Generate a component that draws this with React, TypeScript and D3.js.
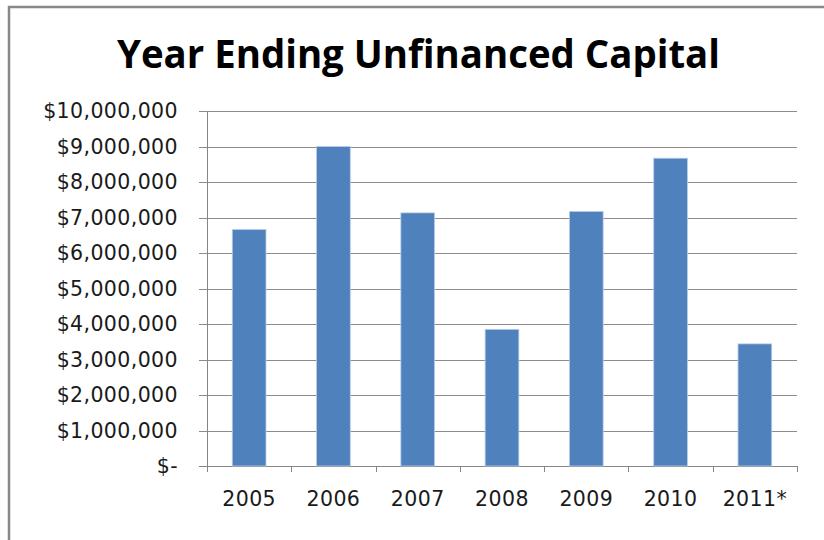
import React from "react";
import * as d3 from "d3";

const categories = ["2005", "2006", "2007", "2008", "2009", "2010", "2011*"];
const values = [6660000, 9000000, 7130000, 3850000, 7170000, 8670000, 3440000];
const yTicks = [0, 1000000, 2000000, 3000000, 4000000, 5000000, 6000000, 7000000, 8000000, 9000000, 10000000];
const title = "Year Ending Unfinanced Capital";

const W = 824;
const H = 540;
const plot = { left: 207, right: 797, top: 111, bottom: 466 };

const fmt = (v: number) => (v === 0 ? "$-" : "$" + d3.format(",")(v));

export default function App() {
  const x = d3
    .scaleBand<string>()
    .domain(categories)
    .range([plot.left, plot.right])
    .paddingInner(0.6)
    .paddingOuter(0.3);
  const y = d3.scaleLinear().domain([0, 10000000]).range([plot.bottom, plot.top]);
  const step = (plot.right - plot.left) / categories.length;
  const boundaries = d3.range(categories.length + 1).map((i) => plot.left + i * step);

  return (
    <svg
      width={W}
      height={H}
      style={{ position: "absolute", left: 0, top: 0, background: "#fff" }}
      fontFamily="'DejaVu Sans', sans-serif"
    >
      <rect x={9} y={7} width={830} height={560} fill="#fff" stroke="#888" strokeWidth={2.5} />
      <text
        x={418.5}
        y={68}
        textAnchor="middle"
        fontFamily="'Open Sans', sans-serif"
        fontWeight="bold"
        fontSize={39}
        textLength={603}
        lengthAdjust="spacingAndGlyphs"
        fill="#000"
      >
        {title}
      </text>
      {yTicks.map((t) => (
        <g key={t}>
          <line
            x1={plot.left - 8}
            x2={plot.right}
            y1={Math.round(y(t)) + 0.5}
            y2={Math.round(y(t)) + 0.5}
            stroke={t === 0 ? "#868686" : "#8c8c8c"}
            strokeWidth={1}
          />
          <text
            x={178}
            y={y(t) + 7}
            textAnchor="end"
            fontSize={20.5}
            letterSpacing={0.4}
            fill="#1a1a1a"
          >
            {fmt(t)}
          </text>
        </g>
      ))}
      <line x1={plot.left + 0.5} x2={plot.left + 0.5} y1={plot.top} y2={plot.bottom + 6} stroke="#868686" />
      {boundaries.map((bx, i) => (
        <line
          key={i}
          x1={Math.round(bx) + 0.5}
          x2={Math.round(bx) + 0.5}
          y1={plot.bottom}
          y2={plot.bottom + 6}
          stroke="#868686"
        />
      ))}
      {categories.map((c, i) => (
        <rect
          key={c}
          x={x(c)!}
          y={y(values[i])}
          width={x.bandwidth()}
          height={plot.bottom - y(values[i])}
          fill="#4F81BD"
          stroke="#B9CDE5"
          strokeWidth={0.8}
        />
      ))}
      {categories.map((c) => (
        <text
          key={c}
          x={x(c)! + x.bandwidth() / 2}
          y={506}
          textAnchor="middle"
          fontSize={20.5}
          letterSpacing={0.4}
          fill="#1a1a1a"
        >
          {c}
        </text>
      ))}
    </svg>
  );
}
